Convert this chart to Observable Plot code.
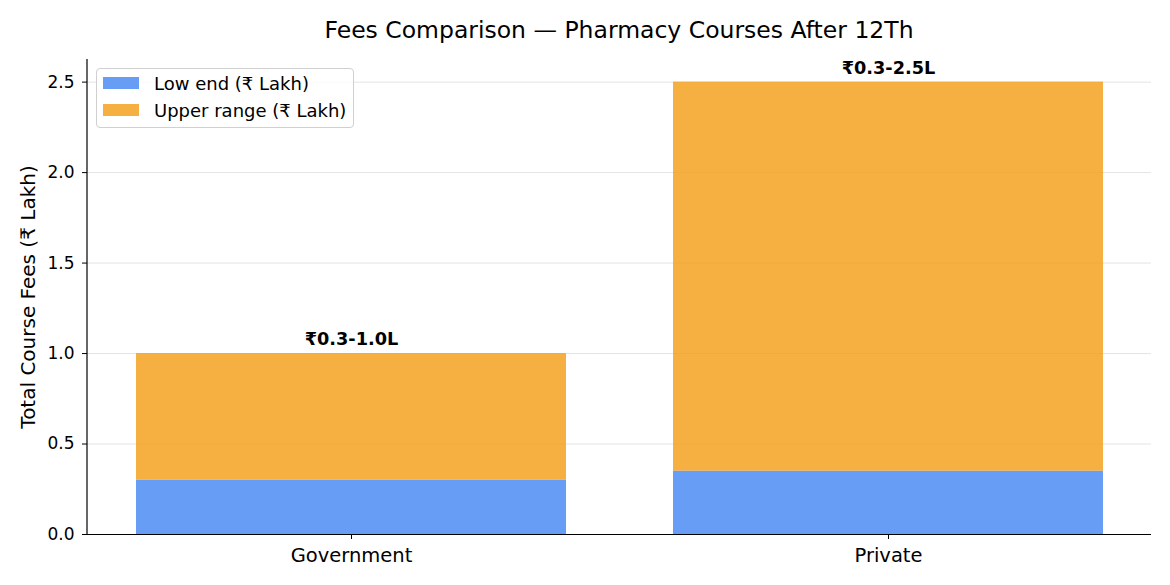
<!DOCTYPE html>
<html>
<head>
<meta charset="utf-8">
<script src="https://cdn.jsdelivr.net/npm/d3@7"></script>
<script src="https://cdn.jsdelivr.net/npm/@observablehq/plot@0.6"></script>
<style>
  body { margin: 0; background: #fff; font-family: "DejaVu Sans", sans-serif; }
  #wrap { position: relative; width: 1170px; height: 585px; }
  #title { height: 50px; margin-left: 87px; width: 1064px; box-sizing: border-box; padding-top: 16px; text-align: center; font-size: 23.5px; line-height: 28px; color: #000; white-space: nowrap; }
  #legend { position: absolute; left: 96px; top: 68px; width: 258px; height: 60px; box-sizing: border-box; border: 1px solid #d0d0d0; border-radius: 4px; background: rgba(255,255,255,0.8); font-size: 18px; }
  .item { position: absolute; left: 6px; display: flex; align-items: center; height: 22px; }
  .sw { width: 36px; height: 12px; margin-right: 15px; }
</style>
</head>
<body>
<div id="wrap">
  <div id="title"></div>
  <div id="chart"></div>
  <div id="legend"></div>
</div>
<script>
const title = "Fees Comparison — Pharmacy Courses After 12Th";
const categories = ["Government", "Private"];
const lowEnd = [0.3, 0.35];
const highEnd = [1.0, 2.5];
const barLabels = ["₹0.3-1.0L", "₹0.3-2.5L"];
const seriesNames = ["Low end (₹ Lakh)", "Upper range (₹ Lakh)"];
const seriesColors = ["#4285F4", "#F39C12"];
const yTicks = [0, 0.5, 1.0, 1.5, 2.0, 2.5];
const yLabel = "Total Course Fees (₹ Lakh)";

document.getElementById("title").textContent = title;

const rows = [];
categories.forEach((c, i) => {
  rows.push({cat: c, series: seriesNames[0], value: lowEnd[i]});
  rows.push({cat: c, series: seriesNames[1], value: highEnd[i] - lowEnd[i]});
});
const tops = categories.map((c, i) => ({cat: c, top: highEnd[i], label: barLabels[i]}));

const chart = Plot.plot({
  width: 1170,
  height: 535,
  marginLeft: 87,
  marginRight: 19,
  marginTop: 9,
  marginBottom: 51,
  style: {fontFamily: "DejaVu Sans, sans-serif", fontSize: "17px", color: "#000", background: "#fff"},
  x: {domain: categories, paddingInner: 0.2, paddingOuter: 0.09, label: null},
  y: {domain: [0, 2.625], ticks: yTicks, label: null},
  color: {domain: seriesNames, range: seriesColors},
  marks: [
    Plot.gridY(yTicks, {stroke: "#e4e4e4", strokeOpacity: 1, strokeWidth: 1}),
    Plot.barY(rows, {x: "cat", y: "value", fill: "series", fillOpacity: 0.8, order: seriesNames}),
    Plot.axisY({ticks: yTicks, tickFormat: d3.format(".1f"), tickSize: 5, tickPadding: 8, fontSize: 17, label: null}),
    Plot.axisX({tickSize: 5, tickPadding: 9, fontSize: 19.5, label: null}),
    Plot.ruleY([0], {stroke: "#000", strokeWidth: 1.2}),
    Plot.text(tops, {x: "cat", y: "top", text: "label", dy: -14, fontWeight: "bold", fontSize: 17.7, fill: "#000"}),
    Plot.text([yLabel], {frameAnchor: "left", textAnchor: "middle", dx: -59, rotate: -90, fontSize: 20, fill: "#000"})
  ]
});
document.getElementById("chart").appendChild(chart);

// left spine
const svg = d3.select(chart);
svg.append("line").attr("x1", 87).attr("x2", 87).attr("y1", 9).attr("y2", 484).attr("stroke", "#000").attr("stroke-width", 1.2);

const lg = document.getElementById("legend");
seriesNames.forEach((s, i) => {
  const it = document.createElement("div");
  it.className = "item";
  it.style.top = (i === 0 ? 3 : 30) + "px";
  const sw = document.createElement("div");
  sw.className = "sw";
  sw.style.background = seriesColors[i];
  sw.style.opacity = 0.8;
  const tx = document.createElement("span");
  tx.textContent = s;
  it.appendChild(sw); it.appendChild(tx);
  lg.appendChild(it);
});
</script>
</body>
</html>
